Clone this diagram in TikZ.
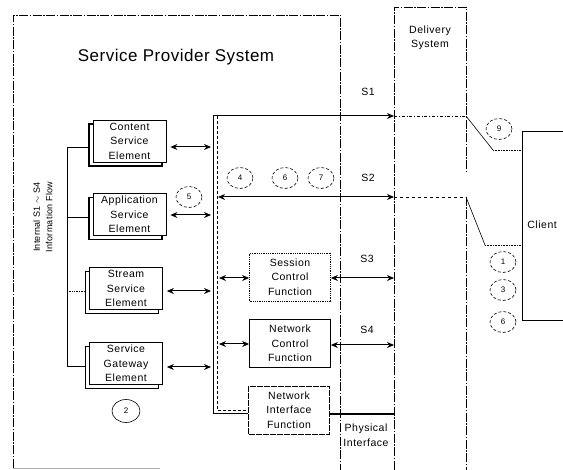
\documentclass[tikz,border=0pt]{standalone}
\usepackage{fontspec}
\setmainfont{Liberation Sans}
\usetikzlibrary{arrows.meta,shapes.geometric,shadows,calc}
\newcommand\bxfont{\fontsize{10.5}{14.5}\selectfont\addfontfeature{LetterSpace=5}}
\begin{document}
\begin{tikzpicture}[x=1pt,y=-1pt,
  line width=0.7pt,
  bnd/.style={line width=0.6pt, dash pattern=on 9pt off 1.5pt on 1.5pt off 1.5pt},
  elem/.style={draw, line width=0.8pt, fill=white, minimum width=73pt, minimum height=42pt,
     inner sep=0pt, align=center, font=\bxfont,
     copy shadow={shadow xshift=-4pt, shadow yshift=-4pt, draw=black, fill=white, line width=1.2pt}},
  func/.style={draw, line width=0.8pt, minimum width=81pt, minimum height=48pt,
     inner sep=0pt, align=center, font=\bxfont},
  numc/.style={ellipse, draw, densely dashed, line width=0.6pt, minimum width=26pt,
     minimum height=21pt, inner sep=0pt, font=\fontsize{8}{9}\selectfont},
  lbl/.style={inner sep=0pt, align=center, font=\bxfont},
  dbl/.style={line width=1pt, {Stealth[length=7pt,width=6pt]}-{Stealth[length=7pt,width=6pt]}},
  arr/.style={line width=1pt, -{Stealth[length=7pt,width=6pt]}},
]
\useasboundingbox (0,0) rectangle (563,470);

% system boundaries
\draw[bnd] (13,468) -- (13,15) -- (340,15) -- (340,470);
\draw[gray!60, line width=0.5pt] (13,468) -- (160,468);
\draw[bnd] (394,470) -- (394,7) -- (466,7) -- (466,173);
\draw[bnd] (466,197) -- (466,470);

% titles
\node[inner sep=0pt, font=\fontsize{17}{20}\selectfont\addfontfeature{LetterSpace=3}] (title) at (176,57) {Service Provider System};
\node[lbl] (dlv) at (430,38) {Delivery\\System};
\node[lbl, rotate=90, font=\fontsize{9}{12.5}\selectfont\addfontfeature{LetterSpace=3}] (flow) at (43,217) {Internal S1 $\sim$ S4\\Information Flow};

% service elements
\node[elem] (cse) at (129.5,141) {Content\\Service\\Element};
\node[elem] (ase) at (129.5,214.5) {Application\\Service\\Element};
\node[elem] (sse) at (126,288.5) {Stream\\Service\\Element};
\node[elem] (sge) at (126,363.5) {Service\\Gateway\\Element};

% functions
\node[func, densely dotted] (scf) at (290,277) {Session\\Control\\Function};
\node[func] (ncf) at (290,343.5) {Network\\Control\\Function};
\node[func, dash pattern=on 6pt off 1pt] (nif) at (289,410) {Network\\Interface\\Function};

% left bracket
\coordinate (k1) at (67,147);
\coordinate (k2) at (67,217);
\coordinate (k3) at (67,291);
\coordinate (k4) at (67,366);
\draw (k1) -- (k4);
\draw (k1) -- ($(cse.west |- k1)+(-4,0)$);
\draw (k2) -- ($(ase.west |- k2)+(-4,0)$);
\draw[densely dotted] (k3) -- ($(sse.west |- k3)+(-4,0)$);
\draw (k4) -- ($(sge.west |- k4)+(-4,0)$);

% bus (double line)
\coordinate (bto) at (213,116);
\coordinate (bbo) at (213,413);
\coordinate (bti) at (217,116);
\coordinate (bbi) at (217,410);
\draw[line width=0.6pt] (bto) -- (bbo) -- (nif.west |- bbo);
\draw[line width=0.6pt, densely dashed] (bti) -- (bbi) -- (nif.west |- bbi);

% element-bus arrows
\coordinate (b1) at (211,147);
\coordinate (b2) at (211,215);
\coordinate (b3) at (211,291);
\coordinate (b4) at (211,367);
\draw[dbl, shorten <=4pt] (cse.east |- b1) -- (b1);
\draw[dbl, shorten <=4pt] (ase.east |- b2) -- (b2);
\draw[dbl, shorten <=4pt] (sse.east |- b3) -- (b3);
\draw[dbl, shorten <=4pt] (sge.east |- b4) -- (b4);

% bus-function arrows
\coordinate (f1) at (219,278);
\coordinate (f2) at (219,344);
\draw[dbl] (f1) -- (scf.west |- f1);
\draw[dbl] (f2) -- (ncf.west |- f2);

% S1..S4
\coordinate (s1a) at (213,116);
\coordinate (d1) at (394,116);
\coordinate (s2a) at (218,197);
\coordinate (d2) at (394,197);
\coordinate (d3) at (394,278);
\coordinate (d4) at (394,345);
\draw[arr] (s1a) -- (d1);
\draw[dbl] (s2a) -- (d2);
\draw[dbl] (scf.east |- d3) -- (d3);
\draw[dbl] (ncf.east |- d4) -- (d4);
\node[lbl] (ls1) at (368,92) {S1};
\node[lbl] (ls2) at (368,178) {S2};
\node[lbl] (ls3) at (367,259) {S3};
\node[lbl] (ls4) at (367,330) {S4};

% physical interface
\coordinate (pi) at (394,414);
\draw[line width=2.2pt] (nif.east |- pi) -- (pi);
\node[lbl] (phy) at (366,435) {Physical\\Interface};

% delivery to client
\coordinate (e1) at (466,116);
\coordinate (e2) at (466,197);
\coordinate (g1) at (493,150);
\coordinate (g2) at (485,245);
\coordinate (cl1) at (522,150);
\coordinate (cl2) at (522,245);
\draw[line width=0.6pt, dash dot] (d1) -- (e1);
\draw[line width=0.6pt, dashed] (d2) -- (e2);
\draw[line width=0.6pt] (e1) -- (g1);
\draw[line width=0.6pt, densely dotted] (g1) -- (cl1);
\draw[line width=0.6pt] (e2) -- (g2);
\draw[line width=0.6pt, densely dotted] (g2) -- (cl2);

% client
\coordinate (ct) at (522,131);
\coordinate (cb) at (522,320);
\draw (563,131) -- (ct) -- (cb) -- (563,320);
\node[lbl, anchor=west] (client) at (527,225) {Client};

% numbered circles
\node[numc] (c5) at (189,197) {5};
\node[numc] (c4) at (240,178) {4};
\node[numc] (c6a) at (285,178) {6};
\node[numc] (c7) at (321,178) {7};
\node[numc] (c9) at (499,129) {9};
\node[numc] (c1) at (503,262) {1};
\node[numc] (c3) at (503,290) {3};
\node[numc] (c6b) at (503,322) {6};
\node[numc, minimum width=28pt, minimum height=23pt, solid] (c2) at (126,411) {2};
\end{tikzpicture}
\end{document}
